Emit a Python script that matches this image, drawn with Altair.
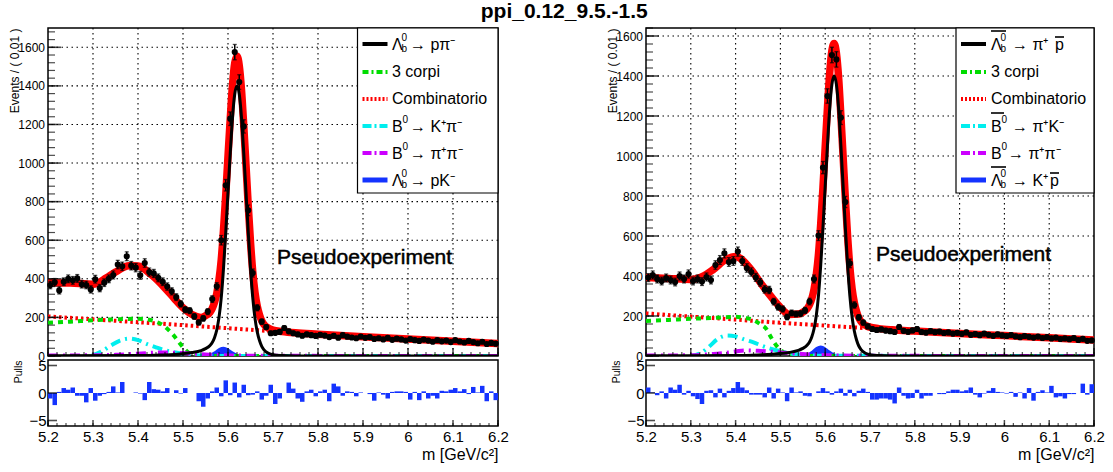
import altair as alt
import pandas as pd

FONT = "Liberation Sans"
RED, GREEN, CYAN, MAGENTA, BLUE = "#ff0000", "#00dd00", "#00eeee", "#cc00ff", "#1433ff"

TITLE = "ppi_0.12_9.5.-1.5"
X_LABELS = [5.2, 5.3, 5.4, 5.5, 5.6, 5.7, 5.8, 5.9, 6.0, 6.1, 6.2]
X_MINOR = [round(5.2 + 0.02 * i, 2) for i in range(51)]
BIN_CENTERS = [round(5.205 + 0.01 * i, 3) for i in range(100)]
PULL_LABELS = [-5, 0, 5]
Y_LABELS = [0, 200, 400, 600, 800, 1000, 1200, 1400, 1600]

H_MAIN, H_PULL = 328, 66

# ---------------- left panel (Lambda_b -> p pi) ----------------
L_COUNTS = [368, 382, 340, 385, 400, 392, 402, 372, 368, 345,
            398, 352, 380, 400, 420, 474, 465, 517, 468, 458,
            418, 482, 435, 428, 405, 385, 360, 335, 305, 270,
            240, 235, 205, 174, 195, 230, 295, 361, 600, 885,
            1230, 1575, 1420, 1190, 755, 430, 250, 178, 150, 118,
            120, 125, 145, 128, 118, 112, 105, 112, 108, 104,
            110, 106, 98, 105, 95, 108, 100, 96, 92, 101,
            94, 98, 88, 92, 86, 94, 84, 90, 86, 80,
            88, 82, 78, 85, 80, 74, 82, 76, 80, 72,
            82, 75, 70, 78, 72, 66, 74, 62, 68, 64]
L_PULLS = [-1.0, -2.2, 0.2, 0.9, 0.6, 1.0, -0.5, -0.5, -1.7, 0.9,
           -1.4, -0.5, -0.2, 0.2, 1.2, 0.1, 2.0, 0.0, 0.0, 0.1,
           -0.1, -1.3, 2.0, 0.7, 0.6, 0.3, 0.9, 0.0, 0.5, -0.1,
           0.9, 0.0, 0.0, -1.5, -2.5, -1.0, 0.3, 1.0, -0.6, 2.3,
           -0.4, 1.9, -0.8, 1.5, -0.4, -0.3, 0.3, -1.2, -0.5, 1.5,
           -2.0, -1.0, 0.0, 1.9, 0.8, -1.0, -1.6, 0.3, 0.6, -0.6,
           0.3, 0.6, -1.5, 1.7, 1.2, -0.5, 0.3, 0.2, -0.6, 0.1,
           0.0, -0.2, -1.4, 0.1, -0.3, -1.0, 0.2, 0.3, 0.3, 0.2,
           -1.2, 0.2, -1.3, 0.3, -1.0, -0.5, -1.0, 0.4, 0.3, 0.6,
           0.9, 0.3, 0.7, -0.2, 1.1, 0.1, 1.3, -1.5, 0.3, -1.3]

TOTAL_M = [5.20, 5.25, 5.30, 5.33, 5.35, 5.38, 5.40, 5.43, 5.46, 5.48,
           5.50, 5.52, 5.54, 5.55, 5.56, 5.565, 5.57, 5.575, 5.58, 5.585,
           5.59, 5.595, 5.60, 5.605, 5.61, 5.615, 5.62, 5.625, 5.63, 5.635,
           5.64, 5.645, 5.65, 5.655, 5.66, 5.665, 5.67, 5.675, 5.68, 5.69,
           5.70, 5.72, 5.75, 5.80, 5.90, 6.00, 6.10, 6.20]
L_TOTAL = [380, 378, 372, 405, 435, 468, 466, 420, 352, 300,
           250, 215, 200, 209, 227, 247, 278, 324, 396, 500,
           654, 836, 1036, 1230, 1405, 1519, 1554, 1506, 1380, 1194,
           989, 779, 591, 437, 329, 259, 213, 182, 163, 144,
           134, 127, 120, 113, 100, 88, 76, 65]
COMB_M = X_LABELS
L_COMB = [205, 190, 175, 160, 144, 128, 113, 100, 88, 76, 65]
L_GREEN_M = [5.2, 5.25, 5.3, 5.35, 5.4, 5.42, 5.44, 5.46, 5.47, 5.48, 5.49, 5.5, 5.51, 5.52, 5.53, 5.54, 6.2]
L_GREEN = [172, 178, 185, 190, 193, 190, 178, 152, 130, 105, 75, 45, 22, 8, 2, 0, 0]
L_CYAN_M = [5.2, 5.28, 5.3, 5.32, 5.34, 5.36, 5.38, 5.4, 5.42, 5.44, 5.46, 5.48, 5.5, 5.52, 5.55, 5.6, 6.2]
L_CYAN = [0, 0, 5, 25, 55, 80, 90, 82, 62, 45, 30, 20, 12, 6, 2, 0, 0]
L_MAG_M = [5.2, 5.3, 5.35, 5.4, 5.45, 5.5, 5.55, 5.6, 5.7, 6.2]
L_MAG = [2, 4, 6, 12, 18, 15, 8, 3, 1, 0]
BLUE_M = [5.2, 5.53, 5.55, 5.56, 5.57, 5.58, 5.59, 5.6, 5.61, 5.62, 5.63, 5.65, 5.67, 6.2]
L_BLUE = [0, 0, 5, 12, 25, 42, 48, 40, 25, 12, 5, 1, 0, 0]
SIG_M = [5.20, 5.40, 5.45, 5.50, 5.52, 5.54, 5.55, 5.56, 5.565, 5.57,
         5.575, 5.58, 5.585, 5.59, 5.595, 5.60, 5.605, 5.61, 5.615, 5.62,
         5.625, 5.63, 5.635, 5.64, 5.645, 5.65, 5.655, 5.66, 5.665, 5.67,
         5.675, 5.68, 5.69, 5.70, 5.72, 5.75, 6.20]
SIG_V = [1, 2, 5, 12, 18, 28, 38, 55, 70, 95,
         135, 200, 302, 454, 641, 849, 1052, 1236, 1358, 1400,
         1358, 1236, 1052, 849, 641, 454, 302, 195, 125, 80,
         50, 32, 14, 6, 2, 0, 0]

# ---------------- right panel (anti-Lambda_b -> pbar pi) ----------------
R_COUNTS = [392, 405, 385, 375, 390, 380, 370, 400, 385, 410,
            375, 385, 372, 395, 380, 455, 480, 513, 470, 475,
            522, 475, 440, 420, 393, 368, 333, 330, 272, 245,
            235, 195, 215, 210, 212, 228, 272, 385, 602, 942,
            1300, 1505, 1483, 1192, 770, 463, 255, 193, 167, 148,
            135, 130, 133, 127, 124, 120, 145, 126, 121, 128,
            135, 120, 117, 124, 119, 122, 115, 118, 112, 116,
            111, 118, 106, 110, 104, 112, 106, 101, 108, 103,
            100, 105, 98, 94, 100, 96, 92, 97, 90, 94,
            88, 92, 85, 88, 84, 90, 80, 86, 76, 78]
R_PULLS = [1.0, 0.1, -0.4, 0.3, -1.0, 1.0, 0.6, 1.5, -0.3, 0.4,
           -0.6, -1.1, -2.0, 0.4, 0.5, -0.8, 0.8, -0.8, 0.4, 0.9,
           2.0, 1.0, 0.5, -0.3, -0.3, -0.3, -0.8, 1.0, -1.0, 0.8,
           0.1, -1.5, 1.0, 0.1, 0.3, -0.5, -0.6, 0.0, 0.3, 0.9,
           0.3, -0.3, 0.3, 0.8, -0.5, 0.6, -0.6, 0.4, 0.8, 0.2,
           -1.2, -1.2, -1.0, -1.0, -1.2, -1.9, 1.0, -0.5, -1.0, -0.9,
           0.6, -1.0, -0.5, -0.5, 0.0, -0.2, -0.2, 0.3, 0.6, 0.6,
           0.3, 0.5, 1.0, -0.3, -0.8, -0.1, 0.4, 0.9, 0.2, 0.1,
           -0.1, 0.2, -0.7, 0.1, -1.0, 0.9, -1.4, 0.2, 0.5, 0.1,
           1.3, -0.8, -0.6, -1.0, -0.2, -0.2, 0.0, 1.7, -0.3, 1.6]
R_TOTAL = [392, 388, 383, 402, 432, 485, 498, 445, 352, 295,
           243, 208, 210, 219, 237, 256, 286, 333, 405, 509,
           661, 843, 1046, 1240, 1414, 1528, 1563, 1515, 1390, 1202,
           997, 787, 599, 446, 338, 268, 222, 191, 172, 153,
           144, 137, 131, 125, 113, 102, 91, 80]
R_COMB = [213, 197, 182, 166, 152, 138, 125, 113, 102, 91, 80]
R_GREEN_M = [5.2, 5.25, 5.3, 5.35, 5.4, 5.42, 5.44, 5.456, 5.467, 5.48, 5.493, 5.505, 5.52, 5.53, 5.54, 6.2]
R_GREEN = [175, 180, 186, 190, 196, 190, 180, 158, 140, 90, 47, 22, 6, 1, 0, 0]
R_CYAN_M = [5.2, 5.3, 5.32, 5.34, 5.36, 5.38, 5.4, 5.42, 5.44, 5.46, 5.48, 5.5, 5.52, 5.55, 5.6, 6.2]
R_CYAN = [0, 0, 12, 45, 85, 102, 98, 82, 68, 50, 35, 24, 14, 6, 1, 0]
R_MAG_M = [5.2, 5.3, 5.35, 5.4, 5.42, 5.45, 5.5, 5.55, 5.6, 5.7, 6.2]
R_MAG = [2, 4, 10, 22, 28, 26, 18, 10, 4, 1, 0]
R_BLUE = [0, 0, 5, 12, 26, 45, 52, 44, 27, 13, 5, 1, 0, 0]

# legend rows (pixel offsets inside the plot area), samples styles
ROWS = [16, 44, 71, 98, 125, 152]
SAMPLES = [("black", 4, None), (GREEN, 4, [6, 3, 2, 3]), (RED, 4, [2, 2]),
           (CYAN, 4, [9, 3, 2, 3]), (MAGENTA, 4, [9, 3, 2, 3]), (BLUE, 5, None)]
LEG_L = [
    [(344, 1, "Λ", 16), (353.5, -6, "0", 10), (353.5, 5, "b", 10), (362, 1, "→ pπ⁻", 16)],
    [(344, 0, "3 corpi", 16)],
    [(344, 0, "Combinatorio", 16)],
    [(344, 1, "B", 16), (354.5, -6, "0", 10), (362, 1, "→ K⁺π⁻", 16)],
    [(344, 1, "B", 16), (354.5, -6, "0", 10), (362, 1, "→ π⁺π⁻", 16)],
    [(344, 1, "Λ", 16), (353.5, -6, "0", 10), (353.5, 5, "b", 10), (362, 1, "→ pK⁻", 16)],
]
LEG_R = [
    [(345, 1, "Λ", 16), (354.5, -6, "0", 10), (354.5, 5, "b", 10), (366, 1, "→  π⁺", 16), (409, 1, "p", 16)],
    [(345, 0, "3 corpi", 16)],
    [(345, 0, "Combinatorio", 16)],
    [(345, 1, "B", 16), (355.5, -6, "0", 10), (366, 1, "→ π⁺K⁻", 16)],
    [(345, 1, "B", 16), (355.5, -6, "0", 10), (362, 1, "→ π⁺π⁻", 16)],
    [(345, 1, "Λ", 16), (354.5, -6, "0", 10), (354.5, 5, "b", 10), (366, 1, "→ K⁺", 16), (404, 1, "p", 16)],
]
OVER_R = [(0, 345, 360, -13), (0, 409, 418, -7), (3, 345, 358, -13), (5, 345, 360, -13), (5, 404, 413, -7)]

ONE = pd.DataFrame({"k": [0]})


def build_column(p):
    W = p["width"]
    xs = alt.Scale(domain=[5.2, 6.2], nice=False, zero=False)
    ys = alt.Scale(domain=[0, p["ymax"]], nice=False, zero=False)
    yaxis = alt.Axis(values=Y_LABELS, format="d", ticks=False, tickSize=0, domain=False, grid=False,
                     labelPadding=3.5, labelFontSize=12, labelFlush=False,
                     title="Events / ( 0.01 )", titleFontSize=12, titleFontWeight="normal",
                     titleAnchor="end", titlePadding=0, minExtent=27, maxExtent=27)

    def X(f):
        return alt.X(f, type="quantitative", scale=xs, axis=None)

    def Y(f):
        return alt.Y(f, type="quantitative", scale=ys, axis=yaxis)

    dotted = dict(color="black", strokeWidth=1.1, strokeDash=[1.5, 3.5])
    layers = [
        alt.Chart(pd.DataFrame({"v": X_LABELS[1:-1]})).mark_rule(**dotted).encode(x=X("v")),
        alt.Chart(pd.DataFrame({"v": Y_LABELS[1:]})).mark_rule(**dotted).encode(y=Y("v")),
        alt.Chart(pd.DataFrame({"m": BLUE_M, "v": p["blue"]})).mark_area(
            color=BLUE, interpolate="monotone", clip=True).encode(x=X("m"), y=Y("v")),
    ]

    def line(m, v, color, width, dash=None):
        kw = dict(color=color, strokeWidth=width, clip=True, interpolate="monotone")
        if dash:
            kw["strokeDash"] = dash
        return alt.Chart(pd.DataFrame({"m": m, "v": v})).mark_line(**kw).encode(x=X("m"), y=Y("v"))

    layers += [
        line(TOTAL_M, p["total"], RED, 7.5),
        line(COMB_M, p["comb"], RED, 4, [2.5, 3]),
        line(p["green_m"], p["green"], GREEN, 4, [5, 5]),
        line(p["cyan_m"], p["cyan"], CYAN, 4, [10, 5, 2, 5]),
        line(p["mag_m"], p["mag"], MAGENTA, 4, [10, 5, 2, 5]),
        line(SIG_M, SIG_V, "black", 3),
    ]

    dd = pd.DataFrame({"m": BIN_CENTERS, "n": p["counts"]})
    base = alt.Chart(dd).transform_calculate(lo="datum.n - sqrt(datum.n)", hi="datum.n + sqrt(datum.n)")
    layers += [
        base.mark_rule(color="black", strokeWidth=1.5).encode(x=X("m"), y=Y("lo"), y2=alt.Y2("hi")),
        base.mark_tick(orient="horizontal", size=4, thickness=1.3, color="black").encode(x=X("m"), y=Y("lo")),
        base.mark_tick(orient="horizontal", size=4, thickness=1.3, color="black").encode(x=X("m"), y=Y("hi")),
        alt.Chart(dd).mark_circle(size=38, color="black", opacity=1).encode(x=X("m"), y=Y("n")),
    ]

    y_minor = list(range(0, int(p["ymax"]) + 1, 40))
    layers += [
        alt.Chart(pd.DataFrame({"v": Y_LABELS})).mark_tick(
            orient="horizontal", size=13, thickness=1.6, color="black", xOffset=6.5).encode(y=Y("v"), x=alt.value(0)),
        alt.Chart(pd.DataFrame({"v": y_minor})).mark_tick(
            orient="horizontal", size=7, thickness=1.2, color="black", xOffset=3.5).encode(y=Y("v"), x=alt.value(0)),
        alt.Chart(pd.DataFrame({"v": X_LABELS})).mark_tick(
            orient="vertical", size=8, thickness=1.5, color="black", yOffset=-4).encode(x=X("v"), y=alt.value(H_MAIN)),
        alt.Chart(pd.DataFrame({"v": X_MINOR})).mark_tick(
            orient="vertical", size=4, thickness=1.2, color="black", yOffset=-2).encode(x=X("v"), y=alt.value(H_MAIN)),
    ]

    # legend
    bx1 = p["leg_x"]
    layers.append(alt.Chart(ONE).mark_rect(fill="white", stroke="black", strokeWidth=1.2).encode(
        x=alt.value(bx1), x2=alt.value(W), y=alt.value(0), y2=alt.value(165)))
    sx1 = bx1 + 5
    for r, (color, sw, dash) in zip(ROWS, SAMPLES):
        kw = dict(color=color, strokeWidth=sw)
        if dash:
            kw["strokeDash"] = dash
        layers.append(alt.Chart(ONE).mark_rule(**kw).encode(
            x=alt.value(sx1), x2=alt.value(sx1 + 25), y=alt.value(r)))
    for r, pieces in zip(ROWS, p["legend"]):
        for (x, dy, t, fs) in pieces:
            layers.append(alt.Chart(ONE).mark_text(
                align="left", baseline="middle", font=FONT, fontSize=fs, color="black").encode(
                x=alt.value(x), y=alt.value(r + dy), text=alt.value(t)))
    for (ri, x1, x2, dy) in p["over"]:
        layers.append(alt.Chart(ONE).mark_rule(color="black", strokeWidth=1.6).encode(
            x=alt.value(x1), x2=alt.value(x2), y=alt.value(ROWS[ri] + dy)))
    px, py = p["pseudo"]
    layers.append(alt.Chart(ONE).mark_text(
        align="left", baseline="middle", font=FONT, fontSize=21, color="black",
        stroke="black", strokeWidth=0.5).encode(
        x=alt.value(px), y=alt.value(py), text=alt.value("Pseudoexperiment")))

    main = alt.layer(*layers).properties(width=W, height=H_MAIN)

    # pulls
    ps = alt.Scale(domain=[-6, 6], nice=False, zero=False)
    pyaxis = alt.Axis(values=PULL_LABELS, format="d", ticks=False, tickSize=0, domain=False, grid=False,
                      labelPadding=2, labelFontSize=15, labelFlush=False,
                      title="Pulls", titleFontSize=10.5, titleFontWeight="normal",
                      titleAnchor="end", titlePadding=0, minExtent=25, maxExtent=25)
    pxaxis = alt.Axis(values=X_LABELS, format="~g", ticks=False, tickSize=0, domain=False, grid=False,
                      labelPadding=3, labelFontSize=15, labelFlush=False,
                      title="m [GeV/c²]", titleFontSize=16, titleFontWeight="normal",
                      titleAnchor="end", titlePadding=2)

    def PX(f):
        return alt.X(f, type="quantitative", scale=xs, axis=pxaxis)

    def PY(f):
        return alt.Y(f, type="quantitative", scale=ps, axis=pyaxis)

    pdf = pd.DataFrame({"m": BIN_CENTERS, "p": p["pulls"]})
    bars = alt.Chart(pdf).transform_calculate(
        lo="datum.m - 0.005", hi="datum.m + 0.005", z="0").mark_rect(color=BLUE).encode(
        x=PX("lo"), x2=alt.X2("hi"), y=PY("z"), y2=alt.Y2("p"))
    pl = [
        bars,
        alt.Chart(pd.DataFrame({"v": PULL_LABELS})).mark_tick(
            orient="horizontal", size=9, thickness=1.6, color="black", xOffset=4.5).encode(y=PY("v"), x=alt.value(0)),
        alt.Chart(pd.DataFrame({"v": X_LABELS})).mark_tick(
            orient="vertical", size=6, thickness=1.5, color="black", yOffset=-3).encode(x=PX("v"), y=alt.value(H_PULL)),
        alt.Chart(pd.DataFrame({"v": X_MINOR})).mark_tick(
            orient="vertical", size=3, thickness=1.2, color="black", yOffset=-1.5).encode(x=PX("v"), y=alt.value(H_PULL)),
    ]
    pulls = alt.layer(*pl).properties(width=W, height=H_PULL)
    return alt.vconcat(main, pulls, spacing=4, bounds="flush")


left = build_column(dict(width=450, ymax=1700, counts=L_COUNTS, pulls=L_PULLS, total=L_TOTAL, comb=L_COMB,
                         green_m=L_GREEN_M, green=L_GREEN, cyan_m=L_CYAN_M, cyan=L_CYAN,
                         mag_m=L_MAG_M, mag=L_MAG, blue=L_BLUE, leg_x=309.5, legend=LEG_L, over=[],
                         pseudo=(229, 230)))
right = build_column(dict(width=448, ymax=1640, counts=R_COUNTS, pulls=R_PULLS, total=R_TOTAL, comb=R_COMB,
                          green_m=R_GREEN_M, green=R_GREEN, cyan_m=R_CYAN_M, cyan=R_CYAN,
                          mag_m=R_MAG_M, mag=R_MAG, blue=R_BLUE, leg_x=310, legend=LEG_R, over=OVER_R,
                          pseudo=(230, 227)))

chart = alt.hconcat(left, right, spacing=95).properties(
    title=alt.TitleParams(TITLE, fontSize=21, fontWeight="bold", font=FONT, anchor="middle",
                          offset=5, color="black", dx=8),
    padding={"left": 7, "top": 0, "right": 0, "bottom": 0},
).configure_view(stroke="black", strokeWidth=1.5).configure_axis(
    labelFont=FONT, titleFont=FONT, labelColor="black", titleColor="black")

chart.save("out.html", embed_options={"renderer": "svg", "actions": False})
